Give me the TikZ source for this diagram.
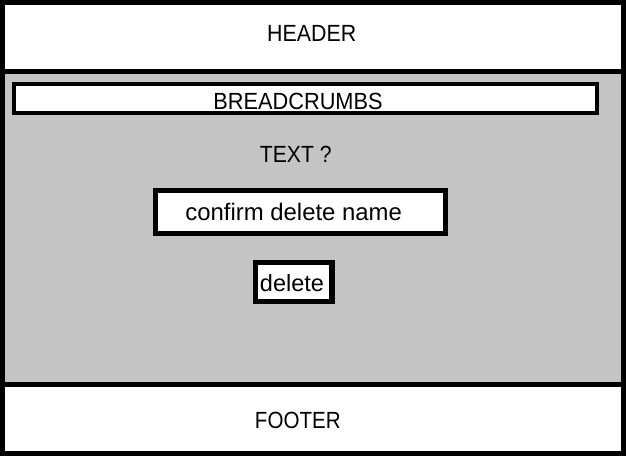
\documentclass[tikz,border=0pt]{standalone}
\usepackage{graphicx}
\usepackage{fontspec}
\setmainfont{Liberation Sans}
\definecolor{panelgray}{RGB}{196,196,196}
\tikzset{
  lbl/.style={inner sep=0pt, anchor=base, text=black},
  box/.style={draw=black, fill=white},
}
\newcommand{\capsfont}{\fontsize{23.4}{26}\selectfont}
\begin{document}
\begin{tikzpicture}[x=1pt,y=-1pt]
\useasboundingbox (0,0) rectangle (626,456);
\fill[white] (0,0) rectangle (626,456);
\fill[panelgray] (0,71.2) rectangle (626,384.5);
\draw[line width=5pt] (0,71.2) -- (626,71.2);
\draw[line width=5pt] (0,384.5) -- (626,384.5);
\draw[line width=5.3pt] (2.65,2.65) rectangle (623.35,453.35);
% breadcrumbs bar
\draw[box, line width=4pt] (14,84) rectangle (597,112.7);
% confirm field
\draw[box, line width=5.3pt] (155.3,190.7) rectangle (445.3,233.3);
% delete button
\draw[box, line width=5.5pt] (255.7,262.7) rectangle (332,301.3);
% texts
\node[lbl, font=\capsfont] (header) at (311.7,41.5) {\scalebox{0.913}[1]{HEADER}};
\node[lbl, font=\capsfont] (crumbs) at (298,109.3) {\scalebox{0.930}[1]{BREADCRUMBS}};
\node[lbl, font=\capsfont] (question) at (295.8,162) {\scalebox{0.904}[1]{TEXT ?}};
\node[lbl, font=\fontsize{23.9}{26}\selectfont] (confirm) at (293.7,220) {confirm delete name};
\node[lbl, font=\fontsize{23.5}{26}\selectfont] (delete) at (292,291.7) {delete};
\node[lbl, font=\capsfont] (footer) at (297.8,428.5) {\scalebox{0.879}[1]{FOOTER}};
\end{tikzpicture}
\end{document}
